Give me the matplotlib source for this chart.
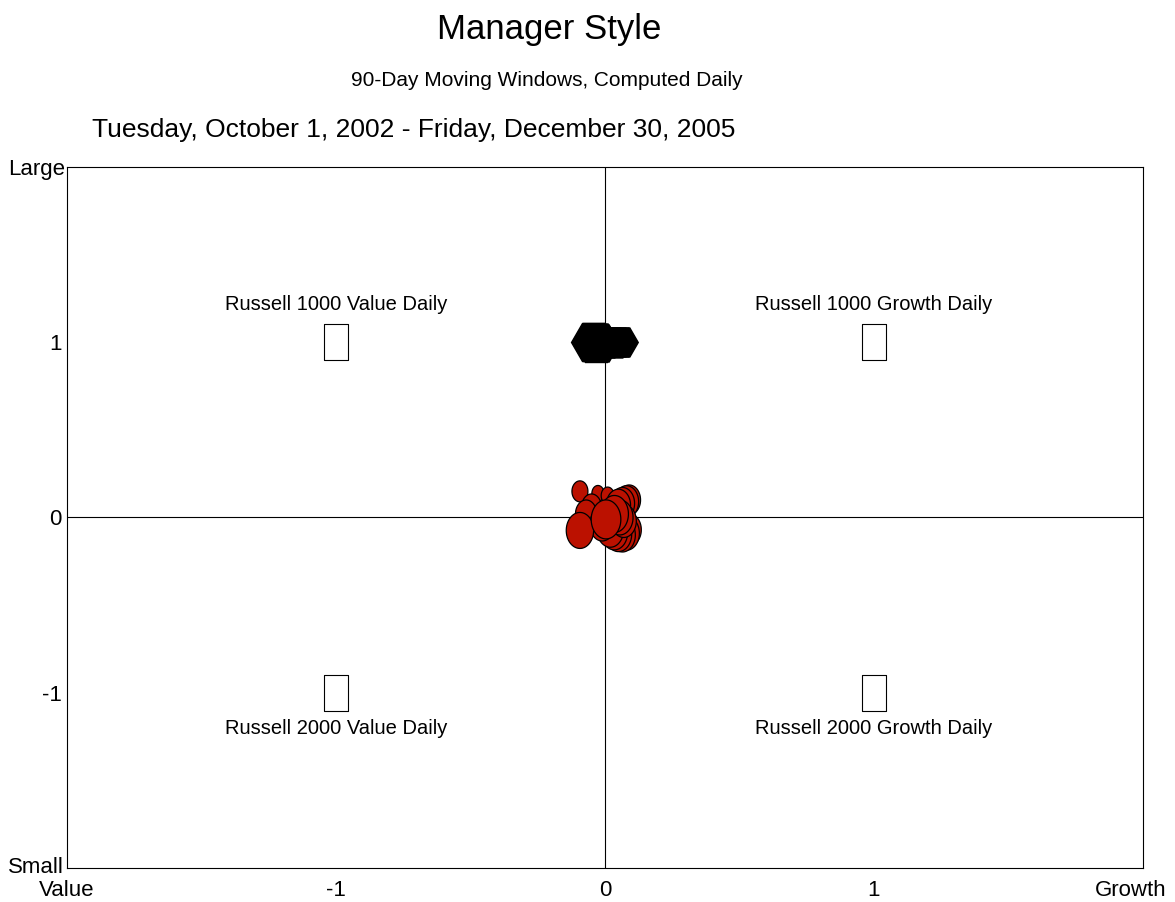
import numpy as np
import matplotlib
matplotlib.use("Agg")
import matplotlib.pyplot as plt
from matplotlib.path import Path
from matplotlib.transforms import ScaledTranslation

plt.rcParams['font.family'] = ['Liberation Sans', 'DejaVu Sans']

# style index positions of the manager (red) over time, with marker heights (px)
red_x = [-0.093, -0.026, 0.01, 0.09, 0.08, 0.065, 0.05, -0.05, -0.07, 0.09,
         0.08, 0.065, 0.05, 0.035, 0.02, -0.01, -0.093, 0.07, 0.055, 0.035, 0.004]
red_y = [0.149, 0.137, 0.125, 0.10, 0.09, 0.08, 0.07, 0.06, 0.02, -0.07,
         -0.09, -0.10, -0.095, -0.085, -0.07, -0.04, -0.074, -0.02, 0.0, 0.02, -0.011]
red_h = [21, 16, 17, 30, 32, 32, 32, 26, 28, 32,
         34, 34, 35, 35, 35, 33, 36, 33, 35, 37, 39]

# black series near the Russell 1000 level
black_x = [-0.045, -0.04, -0.035, -0.03, -0.025, -0.015, -0.005, 0.005,
           0.015, 0.025, 0.035, 0.045, 0.055, 0.06]
black_y = [1.0, 1.003, 0.997, 1.002, 0.998, 1.0, 1.002, 0.998,
           1.0, 1.003, 0.997, 1.0, 1.002, 1.0]
black_h = [38, 38, 38, 37, 37, 30, 29, 29, 29, 29, 29, 29, 29, 29]

# style benchmarks
bench_x = [-1, 1, -1, 1]
bench_y = [1, 1, -1, -1]
bench_names = ["Russell 1000 Value Daily", "Russell 1000 Growth Daily",
               "Russell 2000 Value Daily", "Russell 2000 Growth Daily"]

ticks = [-2, -1, 0, 1, 2]
xtick_labels = ["Value", "-1", "0", "1", "Growth"]
ytick_labels = ["Small", "-1", "0", "1", "Large"]

fig = plt.figure(figsize=(11.75, 9.02), dpi=100)
ax = fig.add_axes([0.057, 0.0377, 0.9157, 0.7772])
ax.set_xlim(-2, 2)
ax.set_ylim(-2, 2)

ax.axhline(0, color='black', lw=0.8, zorder=1)
ax.axvline(0, color='black', lw=0.8, zorder=1)

px2pt = 72 / 100

# benchmark boxes
rect = Path([(-0.33, -0.5), (0.33, -0.5), (0.33, 0.5), (-0.33, 0.5), (-0.33, -0.5)],
            [Path.MOVETO, Path.LINETO, Path.LINETO, Path.LINETO, Path.CLOSEPOLY])
ax.scatter(bench_x, bench_y, marker=rect, s=(36 * px2pt) ** 2,
           facecolor='white', edgecolor='black', linewidths=0.8, zorder=3)
for bx, by, name in zip(bench_x, bench_y, bench_names):
    ty = by + 0.215 if by > 0 else by - 0.205
    ax.text(bx, ty, name, ha='center', va='center', fontsize=14.5)

# black hexagons
for x, y, h in zip(black_x, black_y, black_h):
    ax.plot(x, y, marker='H', ms=h * px2pt / 0.866, color='black',
            mec='black', zorder=4)

# red ellipses
t = np.linspace(0, 2 * np.pi, 60)
ell = Path(np.column_stack([0.38 * np.cos(t), 0.5 * np.sin(t)]))
ax.scatter(red_x, red_y, marker=ell, s=(np.array(red_h) * px2pt) ** 2,
           facecolor='#BB1100', edgecolor='black', linewidths=0.9, zorder=5)

ax.set_xticks(ticks)
ax.set_xticklabels(xtick_labels)
ax.set_yticks(ticks)
ax.set_yticklabels(ytick_labels)
ax.tick_params(length=0, labelsize=16)
ax.tick_params(axis='x', pad=9)
ax.tick_params(axis='y', pad=4)
for s in ax.spines.values():
    s.set_linewidth(0.8)

# pull the end labels inside the figure like the original
xl = ax.get_xticklabels()
xl[-1].set_transform(xl[-1].get_transform() + ScaledTranslation(-12 / 100, 0, fig.dpi_scale_trans))
yl = ax.get_yticklabels()
yl[-1].set_transform(yl[-1].get_transform() + ScaledTranslation(4 / 100, 0, fig.dpi_scale_trans))
yl[0].set_transform(yl[0].get_transform() + ScaledTranslation(2 / 100, 3 / 100, fig.dpi_scale_trans))

fig.text(0.467, 0.967, "Manager Style", ha='center', va='center', fontsize=25)
fig.text(0.4655, 0.911, "90-Day Moving Windows, Computed Daily",
         ha='center', va='center', fontsize=15)
fig.text(0.0783, 0.856, "Tuesday, October 1, 2002 - Friday, December 30, 2005",
         ha='left', va='center', fontsize=19)

fig.savefig("out.png", dpi=100)
